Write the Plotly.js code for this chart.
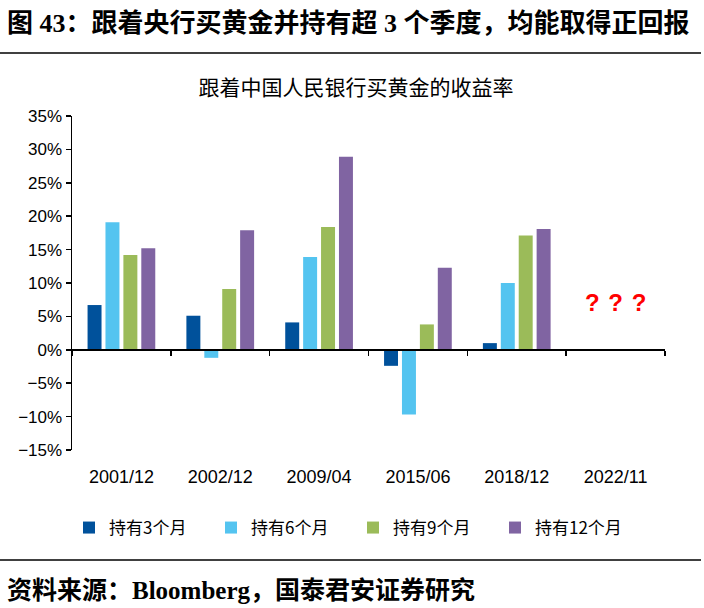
<!DOCTYPE html>
<html>
<head>
<meta charset="utf-8">
<script src="https://cdn.plot.ly/plotly-3.0.1.min.js"></script>
<style>html,body{margin:0;padding:0;background:#fff;}#chart{width:704px;height:608px;}</style>
</head>
<body>
<div id="chart"></div>
<script>
const categories = ['2001/12', '2002/12', '2009/04', '2015/06', '2018/12', '2022/11'];
const seriesNames = ['持有3个月', '持有6个月', '持有9个月', '持有12个月'];
const hold3 = [6.7, 5.1, 4.1, -2.4, 1.0, null];
const hold6 = [19.1, -1.2, 13.9, -9.7, 10.0, null];
const hold9 = [14.2, 9.1, 18.4, 3.8, 17.1, null];
const hold12 = [15.2, 17.9, 28.9, 12.3, 18.1, null];
const colors = ['#00519b', '#54c4f0', '#9bbb59', '#8064a2'];
const yRange = [-15, 35];
const unknownCategory = '2022/11';
const unknownLevel = 7.1;

const PL = 72, PR = 665, PT = 116, PB = 450;
const pw = PR - PL, ph = PB - PT;
const px = x => (x - PL) / pw;
const py = y => (PB - y) / ph;

const series = [hold3, hold6, hold9, hold12];
const traces = series.map((vals, i) => ({
  type: 'bar',
  name: seriesNames[i],
  x: categories,
  y: vals,
  marker: {color: colors[i], line: {width: 0}},
  hoverinfo: 'x+y'
}));
traces.push({
  type: 'scatter', mode: 'markers', x: categories, y: categories.map(() => null),
  xaxis: 'x2', yaxis: 'y', showlegend: false, hoverinfo: 'skip'
});

const numFont = 'Liberation Sans Narrow, Liberation Sans, Arial';
const cjkFont = 'Liberation Sans Narrow, Noto Sans CJK SC, sans-serif';

const layout = {
  width: 704, height: 608,
  margin: {l: PL, r: 704 - PR, t: PT, b: 608 - PB},
  paper_bgcolor: '#fff', plot_bgcolor: '#fff',
  barmode: 'group', bargap: 0.275, bargroupgap: 0.22,
  title: {
    text: '跟着中国人民银行买黄金的收益率',
    font: {family: 'Noto Sans CJK SC, sans-serif', size: 21, color: '#000'},
    x: 356 / 704, xanchor: 'center', y: 1 - 88 / 608, yanchor: 'middle', yref: 'container'
  },
  xaxis: {
    type: 'category', categoryorder: 'array', categoryarray: categories,
    showline: false, showgrid: false, zeroline: false,
    ticks: 'outside', ticklen: 10, tickcolor: 'rgba(0,0,0,0)',
    tickfont: {family: numFont, size: 18, color: '#000'}
  },
  xaxis2: {
    type: 'category', categoryorder: 'array', categoryarray: categories,
    matches: 'x', overlaying: 'x', anchor: 'free',
    position: (0 - yRange[0]) / (yRange[1] - yRange[0]),
    showline: true, linecolor: '#000', linewidth: 2,
    ticks: 'outside', tickson: 'boundaries', ticklen: 5, tickwidth: 1.5, tickcolor: '#000',
    showticklabels: false, showgrid: false, zeroline: false
  },
  yaxis: {
    range: yRange, dtick: 5, ticksuffix: '%',
    showline: true, linecolor: '#000', linewidth: 1.5,
    ticks: 'outside', ticklen: 5, tickwidth: 1.5, tickcolor: '#000',
    showgrid: false, zeroline: false,
    tickfont: {family: numFont, size: 17, color: '#000'}
  },
  legend: {
    orientation: 'h', x: px(69), xanchor: 'left', y: py(528), yanchor: 'middle',
    font: {family: cjkFont, size: 17, color: '#000'},
    entrywidth: 97, entrywidthmode: 'pixels', itemwidth: 30,
    bgcolor: 'rgba(0,0,0,0)', borderwidth: 0
  },
  shapes: [
    {type: 'line', xref: 'paper', yref: 'paper', x0: px(0), x1: px(701), y0: py(53), y1: py(53), line: {color: '#000', width: 1.5}},
    {type: 'line', xref: 'paper', yref: 'paper', x0: px(0), x1: px(701), y0: py(560), y1: py(560), line: {color: '#000', width: 1.5}}
  ],
  annotations: [
    {xref: 'paper', yref: 'paper', x: px(5), y: py(23), xanchor: 'left', yanchor: 'middle', showarrow: false,
     text: '<b>图 43：跟着央行买黄金并持有超 3 个季度，均能取得正回报</b>',
     font: {family: 'Liberation Serif, Noto Sans CJK SC, serif', size: 26, color: '#000'}},
    {xref: 'paper', yref: 'paper', x: px(5), y: py(590), xanchor: 'left', yanchor: 'middle', showarrow: false,
     text: '<b>资料来源：Bloomberg，国泰君安证券研究</b>',
     font: {family: 'Liberation Serif, Noto Sans CJK SC, serif', size: 25, color: '#000'}},
    {xref: 'x', yref: 'y', x: unknownCategory, y: unknownLevel, xanchor: 'center', yanchor: 'middle', showarrow: false,
     text: '<b>?\u00A0\u200A?\u00A0\u200A?</b>',
     font: {family: numFont, size: 24, color: '#ff0000'}}
  ]
};

Plotly.newPlot('chart', traces, layout, {displayModeBar: false, staticPlot: true});
</script>
</body>
</html>
